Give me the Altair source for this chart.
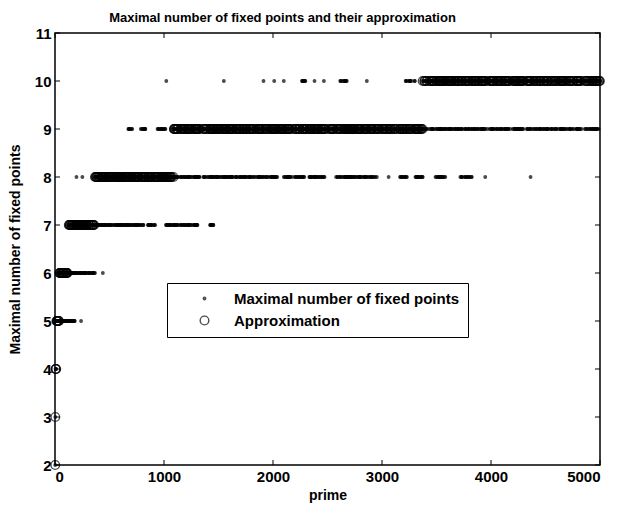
import altair as alt
import pandas as pd
import numpy as np

# ---------------- data ----------------
TITLE = "Maximal number of fixed points and their approximation"
X_TITLE = "prime"
Y_TITLE = "Maximal number of fixed points"
SERIES = ["Maximal number of fixed points", "Approximation"]

x_ticks = [0, 1000, 2000, 3000, 4000, 5000]
y_ticks = [2, 3, 4, 5, 6, 7, 8, 9, 10, 11]

# approximation: level and prime range of each level band
approx_level = [2, 3, 4, 5, 6, 7, 8, 9, 10]
approx_start = [2, 3, 5, 13, 41, 127, 367, 1091, 3373]
approx_end = [2, 3, 11, 37, 113, 359, 1087, 3371, 4999]

# maximal number of fixed points: runs of primes (start, end) at each level
dot_level = [2, 3, 4,
             5, 5,
             6, 6,
             7, 7, 7, 7,
             8, 8, 8, 8, 8, 8, 8, 8, 8, 8, 8, 8, 8, 8,
             9, 9, 9, 9,
             10, 10, 10, 10, 10, 10, 10, 10, 10, 10, 10, 10]
dot_start = [2, 3, 5,
             13, 240,
             41, 440,
             127, 840, 1015, 1412,
             197, 251, 367, 2095, 2326, 2566, 3064, 3166, 3304, 3480, 3710, 3950, 4366, 2150,
             664, 785, 941, 1080,
             1025, 1551, 1920, 2012, 2095, 2261, 2381, 2464, 2612, 2862, 3212, 3373]
dot_end = [2, 3, 11,
           190, 240,
           370, 440,
           812, 923, 1310, 1458,
           197, 251, 2050, 2289, 2474, 2954, 3064, 3249, 3387, 3581, 3830, 3950, 4366, 2150,
           711, 831, 1015, 4990,
           1025, 1551, 1920, 2012, 2095, 2308, 2381, 2464, 2677, 2862, 3305, 4999]


# ---------------- build table ----------------
def primes_upto(n):
    s = np.ones(n + 1, dtype=bool)
    s[:2] = False
    for i in range(2, int(n ** 0.5) + 1):
        if s[i]:
            s[i * i::i] = False
    return np.nonzero(s)[0]


P = primes_upto(5000)


def primes_in(a, b):
    sel = P[(P >= a) & (P <= b)]
    if len(sel) == 0:
        mid = (a + b) / 2
        sel = [P[np.argmin(np.abs(P - mid))]]
    return list(sel)


rows = []
for lv, a, b in zip(dot_level, dot_start, dot_end):
    for p in primes_in(a, b):
        rows.append({"prime": int(p), "value": lv, "series": SERIES[0]})
for lv, a, b in zip(approx_level, approx_start, approx_end):
    for p in primes_in(a, b):
        rows.append({"prime": int(p), "value": lv, "series": SERIES[1]})
df = pd.DataFrame(rows)

W, H = 545, 432
FONT = "Liberation Sans"

xs = alt.Scale(domain=[0, 5000], nice=False)
ys = alt.Scale(domain=[2, 11], nice=False)

leg = alt.Legend(title=None, labelLimit=0)
points = alt.Chart(df).mark_point(filled=False, strokeWidth=1.4, clip=False).encode(
    x=alt.X("prime:Q", scale=xs,
            axis=alt.Axis(values=x_ticks, format="d", title=X_TITLE, ticks=False, domain=False, grid=False,
                          labelFontSize=15, labelFontWeight="bold", labelPadding=4,
                          titleFontSize=14, titleFontWeight="bold", titlePadding=4)),
    y=alt.Y("value:Q", scale=ys,
            axis=alt.Axis(values=y_ticks, title=Y_TITLE, ticks=False, domain=False, grid=False,
                          labelFontSize=15, labelFontWeight="bold", labelPadding=4,
                          titleFontSize=14, titleFontWeight="bold", titlePadding=12)),
    size=alt.Size("series:N", scale=alt.Scale(domain=SERIES, range=[6, 75]), legend=leg),
    fill=alt.Fill("series:N", scale=alt.Scale(domain=SERIES, range=["black", "transparent"]), legend=leg),
    stroke=alt.Stroke("series:N", scale=alt.Scale(domain=SERIES, range=["black", "black"]), legend=leg),
    order=alt.Order("series:N", sort="descending"),
)

xt = pd.DataFrame({"t": x_ticks})
yt = pd.DataFrame({"t": y_ticks})
tick_bottom = alt.Chart(xt).mark_rule(color="black", strokeWidth=1).encode(
    x=alt.X("t:Q", scale=xs), y=alt.value(H), y2=alt.value(H - 5))
tick_top = alt.Chart(xt).mark_rule(color="black", strokeWidth=1).encode(
    x=alt.X("t:Q", scale=xs), y=alt.value(0), y2=alt.value(5))
tick_left = alt.Chart(yt).mark_rule(color="black", strokeWidth=1).encode(
    y=alt.Y("t:Q", scale=ys), x=alt.value(0), x2=alt.value(5))
tick_right = alt.Chart(yt).mark_rule(color="black", strokeWidth=1).encode(
    y=alt.Y("t:Q", scale=ys), x=alt.value(W), x2=alt.value(W - 5))

chart = alt.layer(points, tick_bottom, tick_top, tick_left, tick_right).properties(
    width=W, height=H,
    title=alt.TitleParams(TITLE, fontSize=13, fontWeight="bold", font=FONT, offset=1, dx=-45,
                          color="black"),
    padding={"left": 47, "top": 25, "right": 11, "bottom": 38},
    autosize=alt.AutoSizeParams(type="none"),
).configure_view(
    stroke="black", strokeWidth=1.5
).configure_axis(
    labelFont=FONT, titleFont=FONT, labelColor="black", titleColor="black"
).configure_legend(
    orient="none", legendX=112, legendY=250,
    strokeColor="black", fillColor="white", padding=8, cornerRadius=0,
    labelFont=FONT, labelFontSize=15, labelFontWeight="bold", labelColor="black", labelLimit=0,
    symbolOffset=22, labelOffset=22, rowPadding=6, symbolStrokeWidth=1.4,
)

chart.save("out.html", embed_options={"renderer": "svg", "actions": False})
